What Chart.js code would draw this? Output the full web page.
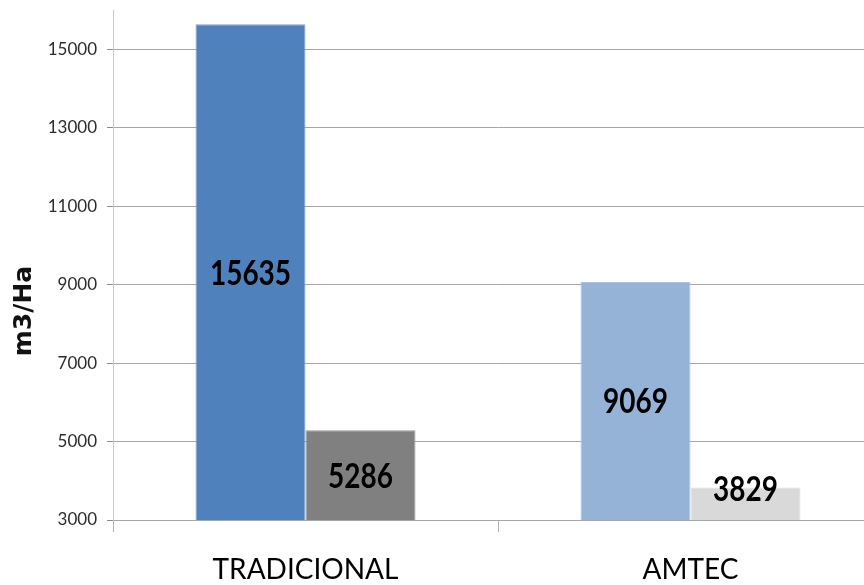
<!DOCTYPE html>
<html>
<head>
<meta charset="utf-8">
<script src="https://cdn.jsdelivr.net/npm/chart.js@4.4.1/dist/chart.umd.min.js"></script>
<style>
  html, body { margin: 0; padding: 0; background: #fff; overflow: hidden; }
  #wrap { width: 884px; height: 585px; }
</style>
</head>
<body>
<div id="wrap"><canvas id="chart" width="884" height="585"></canvas></div>
<script>
// categories and values (m3/Ha)
const categories = ["TRADICIONAL", "AMTEC"];
const serie1 = [15635, 9069];
const serie2 = [5286, 3829];
const yTicks = [3000, 5000, 7000, 9000, 11000, 13000, 15000];
const yTitle = "m3/Ha";

const face = 'Lato, "Open Sans", sans-serif';

// value labels written on each bar (condensed bold digits)
const barLabels = {
  id: "barLabels",
  afterDatasetsDraw(chart) {
    const ctx = chart.ctx;
    const bottom = chart.chartArea.bottom;
    ctx.save();
    ctx.fillStyle = "#000";
    ctx.font = "bold 35px " + face;
    ctx.textAlign = "center";
    ctx.textBaseline = "alphabetic";
    chart.data.datasets.forEach((ds, i) => {
      chart.getDatasetMeta(i).data.forEach((bar, j) => {
        const mid = (bar.y + bottom) / 2;
        const y = Math.min(mid, bottom - 32);
        ctx.save();
        ctx.translate(bar.x, y + 12.5);
        ctx.scale(0.8, 1);
        ctx.fillText(String(ds.data[j]), 0, 0);
        ctx.restore();
      });
    });
    ctx.restore();
  }
};

// rotated y axis title
const axisTitle = {
  id: "axisTitle",
  afterDraw(chart) {
    const ctx = chart.ctx;
    ctx.save();
    ctx.translate(24, 311);
    ctx.rotate(-Math.PI / 2);
    ctx.fillStyle = "#111";
    ctx.font = 'bold 25px "DejaVu Sans", sans-serif';
    ctx.textAlign = "center";
    ctx.textBaseline = "middle";
    ctx.fillText(yTitle, 0, 0);
    ctx.restore();
  }
};

new Chart(document.getElementById("chart"), {
  type: "bar",
  data: {
    labels: categories,
    datasets: [
      {
        label: "Serie1",
        data: serie1,
        backgroundColor: ["#4F81BD", "#95B3D7"],
        borderColor: ["#7FA3D3", "#A9C3E2"],
        borderWidth: 1,
        categoryPercentage: 0.5714,
        barPercentage: 1
      },
      {
        label: "Serie2",
        data: serie2,
        backgroundColor: ["#808080", "#D9D9D9"],
        borderColor: ["#999999", "#DDDDDD"],
        borderWidth: 1,
        categoryPercentage: 0.5714,
        barPercentage: 1
      }
    ]
  },
  options: {
    responsive: false,
    animation: false,
    layout: { padding: { top: 10, right: 1, left: 0, bottom: 0 } },
    plugins: {
      legend: { display: false },
      tooltip: { enabled: false }
    },
    scales: {
      x: {
        afterFit: (s) => { s.height = 65; s.paddingLeft = 0; s.paddingRight = 0; },
        grid: {
          display: true,
          offset: true,
          drawOnChartArea: false,
          tickLength: 12,
          color: "#B4B4B4"
        },
        border: { display: true, color: "#A6A6A6" },
        ticks: {
          color: "#000",
          padding: 21,
          font: { family: face, size: 28 }
        }
      },
      y: {
        min: 3000,
        max: 16000,
        afterFit: (s) => { s.width = 113; s.paddingTop = 0; s.paddingBottom = 0; },
        afterBuildTicks: (s) => {
          s.ticks = yTicks.map((v) => ({ value: v }));
        },
        grid: {
          color: "#A6A6A6",
          tickColor: "#8C8C8C",
          tickLength: 6
        },
        border: { display: true, color: "#C8C8C8" },
        ticks: {
          color: "#2b2b2b",
          padding: 10,
          callback: (v) => String(v),
          font: { family: face, size: 17, lineHeight: 1 }
        }
      }
    }
  },
  plugins: [barLabels, axisTitle]
});
</script>
</body>
</html>
